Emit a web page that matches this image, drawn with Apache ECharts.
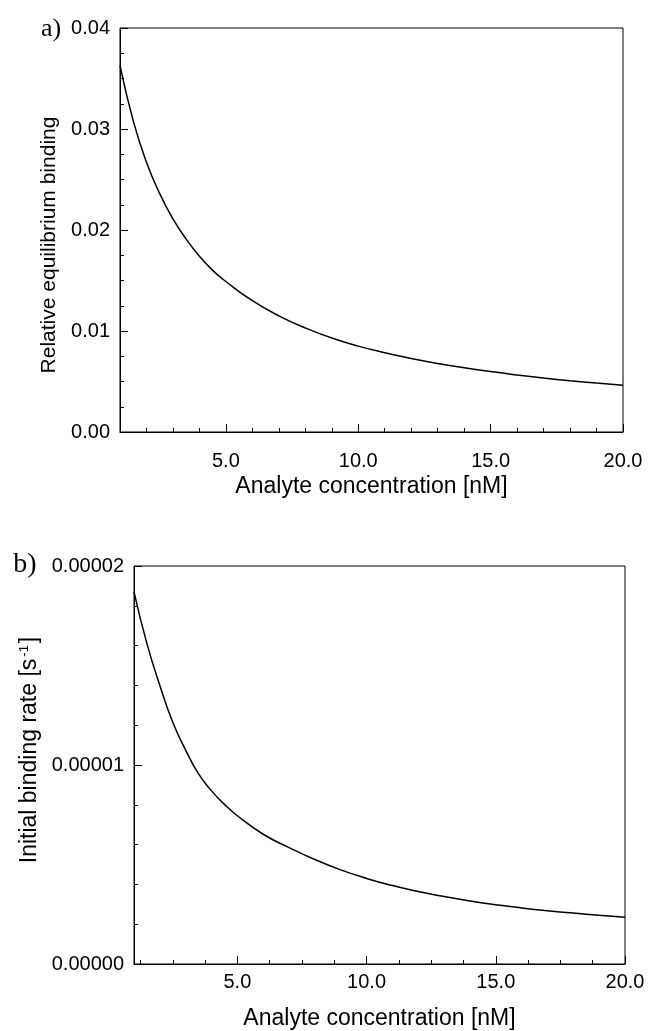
<!DOCTYPE html>
<html>
<head>
<meta charset="utf-8">
<script src="https://cdn.jsdelivr.net/npm/echarts@6/dist/echarts.min.js"></script>
<style>
  html, body { margin: 0; padding: 0; background: #fff; }
  #chart { width: 649px; height: 1031px; }
</style>
</head>
<body>
<div id="chart"></div>
<script>
// concentration [nM] where the curves were read
const conc = [1, 1.5, 2, 2.5, 3, 3.5, 4, 4.5, 5, 6, 7, 8, 9, 10, 11, 12, 13, 14, 15, 16, 17, 18, 19, 20]
// a) relative equilibrium binding
const eqBinding = [0.0363, 0.0308, 0.0267, 0.0236, 0.0211, 0.0191, 0.0174, 0.0160, 0.0149, 0.0130, 0.0115, 0.0103,
    0.0093, 0.0085, 0.00785, 0.00728, 0.00679, 0.00636, 0.00598, 0.00565, 0.00535, 0.00508, 0.00484, 0.00462]
// b) initial binding rate [1/s]
const bindRate = [1.87e-5, 1.61e-5, 1.40e-5, 1.215e-5, 1.075e-5, 0.955e-5, 0.87e-5, 0.802e-5, 0.745e-5, 0.652e-5,
    0.585e-5, 0.525e-5, 0.473e-5, 0.43e-5, 0.394e-5, 0.364e-5, 0.339e-5, 0.317e-5, 0.298e-5, 0.282e-5, 0.268e-5,
    0.256e-5, 0.245e-5, 0.235e-5]

const xMajor = [5, 10, 15, 20]
const xMinorA = [2, 3, 4, 6, 7, 8, 9, 11, 12, 13, 14, 16, 17, 18, 19]
const xMinorB = [1.25, 2.5, 3.75, 6.25, 7.5, 8.75, 11.25, 12.5, 13.75, 16.25, 17.5, 18.75]

const FONT = '"Liberation Sans", Arial, sans-serif'
const black = '#000'

function majorX(grid, gap, margin) {
    return {
        type: 'value', gridIndex: grid, position: 'bottom', min: 1, max: 20,
        name: 'Analyte concentration [nM]', nameLocation: 'middle', nameGap: gap,
        nameTextStyle: { fontFamily: FONT, fontSize: 23, color: black },
        axisLine: { lineStyle: { color: black, width: 1 } },
        axisTick: { customValues: xMajor, inside: true, length: 8, lineStyle: { color: black } },
        axisLabel: { customValues: xMajor, formatter: v => v.toFixed(1), margin: margin,
            fontFamily: FONT, fontSize: 20, color: black },
        splitLine: { show: false }
    }
}

function minorX(grid, ticks) {
    return {
        type: 'value', gridIndex: grid, position: 'bottom', min: 1, max: 20,
        axisLine: { show: false },
        axisTick: { customValues: ticks, inside: true, length: 4, lineStyle: { color: black } },
        axisLabel: { show: false },
        splitLine: { show: false }
    }
}

const chart = echarts.init(document.getElementById('chart'))

chart.setOption({
    backgroundColor: '#fff',
    animation: false,
    grid: [
        { left: 120, top: 28, right: 26, height: 404, show: true, borderColor: black, borderWidth: 1 },
        { left: 134, top: 566, right: 24, height: 398, show: true, borderColor: black, borderWidth: 1 }
    ],
    xAxis: [majorX(0, 43, 19), minorX(0, xMinorA), majorX(1, 43, 8), minorX(1, xMinorB)],
    yAxis: [
        {
            type: 'value', gridIndex: 0, min: 0, max: 0.04, interval: 0.01,
            axisLine: { show: true, lineStyle: { color: black } },
            axisTick: { inside: true, length: 8, lineStyle: { color: black } },
            minorTick: { show: true, splitNumber: 4, length: 4, lineStyle: { color: black } },
            axisLabel: { formatter: v => v.toFixed(2), margin: 10, fontFamily: FONT, fontSize: 20, color: black },
            splitLine: { show: false }
        },
        {
            type: 'value', gridIndex: 1, min: 0, max: 0.00002, interval: 0.00001,
            axisLine: { show: true, lineStyle: { color: black } },
            axisTick: { inside: true, length: 8, lineStyle: { color: black } },
            minorTick: { show: true, splitNumber: 5, length: 4, lineStyle: { color: black } },
            axisLabel: { formatter: v => v.toFixed(5), margin: 10, fontFamily: FONT, fontSize: 20, color: black },
            splitLine: { show: false }
        }
    ],
    series: [
        {
            type: 'line', xAxisIndex: 0, yAxisIndex: 0, smooth: 0.5, showSymbol: false,
            lineStyle: { color: black, width: 1.5 },
            data: conc.map((c, i) => [c, eqBinding[i]])
        },
        {
            type: 'line', xAxisIndex: 2, yAxisIndex: 1, smooth: 0.5, showSymbol: false,
            lineStyle: { color: black, width: 1.5 },
            data: conc.map((c, i) => [c, bindRate[i]])
        }
    ],
    graphic: [
        { type: 'text', x: 51, y: 29, style: { text: 'a)', font: '26px "Liberation Serif", "Times New Roman", serif',
            fill: black, textAlign: 'center', textVerticalAlign: 'middle' } },
        { type: 'text', x: 25, y: 565, style: { text: 'b)', font: '28px "Liberation Serif", "Times New Roman", serif',
            fill: black, textAlign: 'center', textVerticalAlign: 'middle' } },
        { type: 'text', x: 49, y: 245, rotation: Math.PI / 2,
            style: { text: 'Relative equilibrium binding', font: '21px ' + FONT, fill: black,
                textAlign: 'center', textVerticalAlign: 'middle' } },
        { type: 'text', x: 30, y: 750, rotation: Math.PI / 2,
            style: {
                text: '{t|Initial binding rate [s}{s|-1}{t|]}', fill: black,
                textAlign: 'center', textVerticalAlign: 'middle',
                rich: {
                    t: { fontFamily: FONT, fontSize: 23, lineHeight: 24, fill: black },
                    s: { fontFamily: FONT, fontSize: 13, verticalAlign: 'top', padding: [0, 2, 0, 2], fill: black }
                }
            } }
    ]
})
</script>
</body>
</html>
